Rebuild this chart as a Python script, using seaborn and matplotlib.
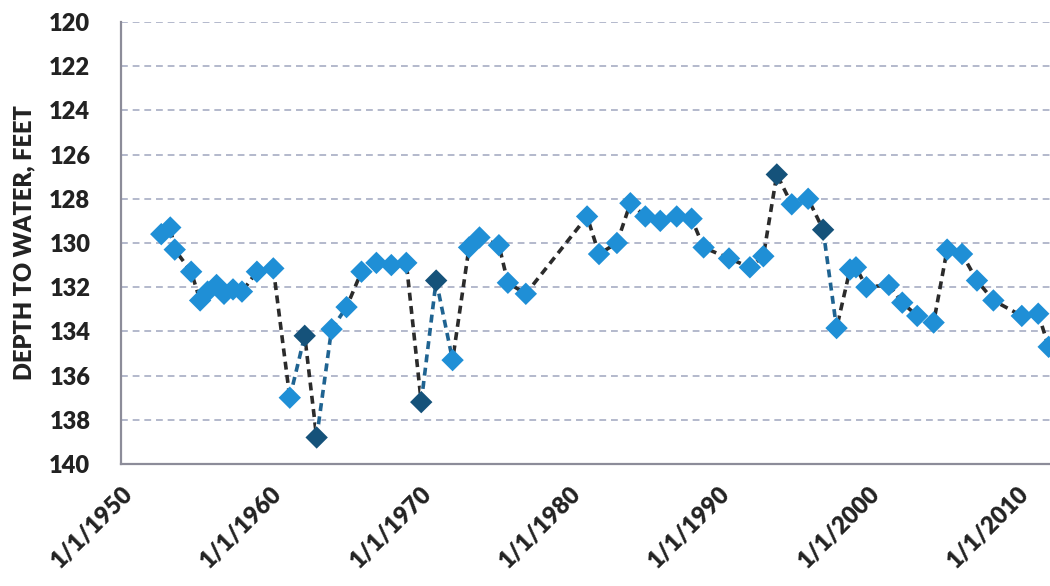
import numpy as np
import pandas as pd
import matplotlib
matplotlib.use("Agg")
import matplotlib.pyplot as plt
import matplotlib.dates as mdates
import seaborn as sns

sns.set_style("white")
plt.rcParams['font.family'] = ['Lato', 'DejaVu Sans']

# measurement dates (decimal years) and depth to water (feet)
years = [1952.7, 1953.3, 1953.6, 1954.7, 1955.3, 1955.8, 1956.4, 1956.9, 1957.5, 1958.1,
         1959.1, 1960.2, 1961.3, 1962.3, 1963.1, 1964.1, 1965.1, 1966.1, 1967.1, 1968.1,
         1969.1, 1970.1, 1971.1, 1972.2, 1973.3, 1974.0, 1975.3, 1975.9, 1977.1, 1981.2,
         1982.0, 1983.2, 1984.1, 1985.1, 1986.1, 1987.2, 1988.2, 1989.0, 1990.7, 1992.1,
         1993.0, 1993.9, 1994.9, 1996.0, 1997.0, 1997.9, 1998.8, 1999.2, 1999.9, 2001.4,
         2002.3, 2003.3, 2004.4, 2005.3, 2006.3, 2007.3, 2008.4, 2010.3, 2011.4, 2012.1]
depth = [129.6, 129.3, 130.3, 131.3, 132.6, 132.2, 131.9, 132.3, 132.1, 132.2,
         131.3, 131.15, 137.0, 134.2, 138.8, 133.9, 132.9, 131.3, 130.9, 131.0,
         130.9, 137.2, 131.7, 135.3, 130.2, 129.75, 130.1, 131.8, 132.3, 128.8,
         130.5, 130.0, 128.2, 128.8, 129.0, 128.8, 128.9, 130.2, 130.7, 131.1,
         130.6, 126.9, 128.25, 128.0, 129.4, 133.85, 131.2, 131.1, 132.0, 131.9,
         132.7, 133.3, 133.6, 130.3, 130.5, 131.7, 132.6, 133.3, 133.2, 134.7]
# points drawn in the darker marker colour
dark_years = [1962.3, 1963.1, 1970.1, 1971.1, 1993.9, 1997.0]
# segments (by starting year) drawn blue instead of black
blue_segments = [1961.3, 1963.1, 1964.1, 1970.1, 1971.1, 1997.0]


def to_date(y):
    yr = int(y)
    return pd.Timestamp(yr, 1, 1) + pd.Timedelta(days=(y - yr) * 365.25)


df = pd.DataFrame({'year': years, 'depth': depth})
df['date'] = [to_date(y) for y in df['year']]
df['kind'] = np.where(df['year'].isin(dark_years), 'dark', 'light')

fig = plt.figure(figsize=(10.5, 5.86), dpi=100)
ax = fig.add_axes([0.1152, 0.2082, 0.8848, 0.7543])

dash = (0, (2.2, 1.5))
sns.lineplot(data=df, x='date', y='depth', ax=ax, color='#2b2b2b',
             linewidth=2.6, linestyle=dash, sort=False, zorder=2)
# blue dashed segments (white underneath hides the black dashes)
for i in range(len(df) - 1):
    if df['year'][i] in blue_segments:
        seg = df.iloc[i:i + 2]
        ax.plot(seg['date'], seg['depth'], color='white', linewidth=3.4,
                solid_capstyle='butt', zorder=2.5)
        ax.plot(seg['date'], seg['depth'], color='#1f6391', linewidth=2.6,
                linestyle=dash, zorder=3)

sns.scatterplot(data=df, x='date', y='depth', hue='kind', ax=ax,
                palette={'light': '#1f8fd6', 'dark': '#15527a'},
                marker='D', s=130, edgecolor='none', legend=False, zorder=4)

ax.set_ylim(140, 120)
ax.set_yticks(np.arange(120, 141, 2))
ax.set_xlim(pd.Timestamp(1950, 1, 1), pd.Timestamp(2012, 3, 10))
ax.xaxis.set_major_locator(mdates.YearLocator(10))
ax.xaxis.set_minor_locator(mdates.YearLocator(1))
ax.xaxis.set_major_formatter(mdates.DateFormatter('1/1/%Y'))

ax.grid(axis='y', color='#b3b9cc', linestyle=(0, (3.5, 2.5)), linewidth=1.4)
ax.set_axisbelow(True)
for s in ['top', 'right']:
    ax.spines[s].set_visible(False)
ax.spines['left'].set_color('#8c8c99')
ax.spines['bottom'].set_color('#8c8c99')
ax.spines['left'].set_linewidth(1.6)
ax.spines['bottom'].set_linewidth(1.6)

ax.tick_params(axis='x', which='major', direction='out', length=7, width=1.3,
               color='#8c8c99', pad=6)
ax.tick_params(axis='x', which='minor', direction='out', length=5, width=1,
               color='#8c8c99')
ax.tick_params(axis='y', direction='in', length=5, width=1.2, color='#8c8c99',
               pad=22)
for lab in ax.get_yticklabels():
    lab.set_fontsize(17)
    lab.set_fontweight('heavy')
    lab.set_color('#222222')
for lab in ax.get_xticklabels():
    lab.set_fontsize(17)
    lab.set_fontweight('heavy')
    lab.set_rotation(45)
    lab.set_ha('right')
    lab.set_rotation_mode('anchor')
    lab.set_color('#222222')

ax.set_xlabel('')
ax.set_ylabel('DEPTH TO WATER, FEET', fontsize=17, fontweight='heavy',
              color='#222222', labelpad=10)

fig.savefig('out.png', dpi=100)
